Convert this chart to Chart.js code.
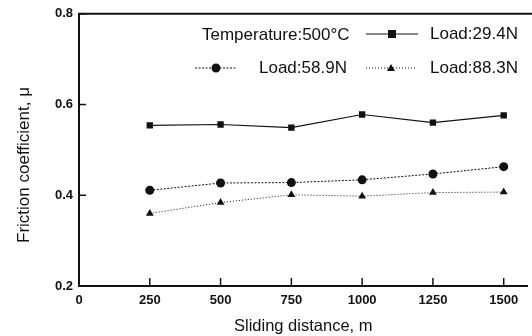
<!DOCTYPE html>
<html>
<head>
<meta charset="utf-8">
<script src="https://cdn.jsdelivr.net/npm/chart.js@4.4.1/dist/chart.umd.min.js"></script>
<style>
  html, body { margin: 0; padding: 0; background: #fff; }
  #wrap { width: 532px; height: 336px; }
</style>
</head>
<body>
<div id="wrap"><canvas id="myChart" width="532" height="336"></canvas></div>
<script>
// sliding distance, m
var distances = [250, 500, 750, 1000, 1250, 1500];
// friction coefficient per load
var load294 = [0.554, 0.556, 0.549, 0.578, 0.560, 0.576];
var load589 = [0.411, 0.427, 0.428, 0.434, 0.447, 0.463];
var load883 = [0.360, 0.384, 0.401, 0.398, 0.406, 0.407];
var xTicks = [0, 250, 500, 750, 1000, 1250, 1500];
var yTicks = [0.2, 0.4, 0.6, 0.8];

var ink = '#111';
var fontFam = 'Arial, "Liberation Sans", Helvetica, sans-serif';

function pts(vals) {
  return distances.map(function (d, i) { return { x: d, y: vals[i] }; });
}

// inward ticks, top frame line, y title and the in-plot legend
var decor = {
  id: 'decor',
  afterDraw: function (chart) {
    var c = chart.ctx, a = chart.chartArea;
    var xs = chart.scales.x, ys = chart.scales.y;
    c.save();
    c.strokeStyle = ink;
    c.lineWidth = 2;
    c.beginPath();
    c.moveTo(a.left - 1, a.top);
    c.lineTo(chart.width, a.top);
    c.stroke();
    c.lineWidth = 1.5;
    xTicks.forEach(function (v) {
      if (v === 0) return;
      var px = xs.getPixelForValue(v);
      c.beginPath(); c.moveTo(px, a.bottom); c.lineTo(px, a.bottom - 8); c.stroke();
    });
    yTicks.forEach(function (v) {
      var py = ys.getPixelForValue(v);
      c.beginPath(); c.moveTo(a.left, py); c.lineTo(a.left + 7, py); c.stroke();
    });

    c.fillStyle = ink;
    // y axis title
    c.save();
    c.translate(24, 165);
    c.rotate(-Math.PI / 2);
    c.font = '17px ' + fontFam;
    c.textAlign = 'center';
    c.textBaseline = 'middle';
    c.fillText('Friction coefficient, \u03bc', 0, 0);
    c.restore();

    // legend
    c.font = '17px ' + fontFam;
    c.textBaseline = 'middle';
    c.fillText('Temperature:500\u00b0C', 202, 35);
    c.fillText('Load:29.4N', 430, 34);
    c.fillText('Load:58.9N', 259, 68);
    c.fillText('Load:88.3N', 430, 68);

    function sample(x1, x2, y, dash, lw, marker) {
      c.save();
      c.lineWidth = lw;
      c.setLineDash(dash);
      c.beginPath(); c.moveTo(x1, y); c.lineTo(x2, y); c.stroke();
      c.restore();
      var mx = (x1 + x2) / 2;
      c.beginPath();
      if (marker === 'rect') {
        c.rect(mx - 4, y - 4, 8, 8);
      } else if (marker === 'circle') {
        c.arc(mx, y, 4.5, 0, Math.PI * 2);
      } else {
        c.moveTo(mx, y - 4); c.lineTo(mx + 4, y + 3); c.lineTo(mx - 4, y + 3); c.closePath();
      }
      c.fill();
    }
    sample(366, 418, 34, [], 1.2, 'rect');
    sample(195, 237, 68, [2, 1.5], 1, 'circle');
    sample(366, 416, 68, [1, 2], 1, 'triangle');
    c.restore();
  }
};

var ctx = document.getElementById('myChart').getContext('2d');
var myChart = new Chart(ctx, {
  type: 'line',
  data: {
    datasets: [{
      label: 'Load:29.4N',
      data: pts(load294),
      borderColor: ink,
      backgroundColor: ink,
      borderWidth: 1.2,
      pointStyle: 'rect',
      pointRadius: 4.5,
      pointBorderWidth: 0
    }, {
      label: 'Load:58.9N',
      data: pts(load589),
      borderColor: ink,
      backgroundColor: ink,
      borderWidth: 1,
      borderDash: [2, 1.5],
      pointStyle: 'circle',
      pointRadius: 4.5,
      pointBorderWidth: 0
    }, {
      label: 'Load:88.3N',
      data: pts(load883),
      borderColor: ink,
      backgroundColor: ink,
      borderWidth: 1,
      borderDash: [1, 2],
      pointStyle: 'triangle',
      pointRadius: 4.5,
      pointBorderWidth: 0
    }]
  },
  options: {
    responsive: false,
    animation: false,
    layout: { padding: { top: 13, right: 0, left: 0, bottom: 0 } },
    plugins: { legend: { display: false }, tooltip: { enabled: false } },
    scales: {
      x: {
        type: 'linear',
        min: 0,
        max: 1584,
        afterBuildTicks: function (s) { s.ticks = xTicks.map(function (v) { return { value: v }; }); },
        afterFit: function (s) { s.height = 50; },
        grid: { display: false, drawTicks: false },
        border: { display: true, color: ink, width: 2 },
        ticks: {
          color: ink,
          padding: 7,
          maxRotation: 0,
          font: { family: fontFam, size: 13, weight: 'bold' },
          callback: function (v) { return String(v); }
        },
        title: {
          display: true,
          text: 'Sliding distance, m',
          color: ink,
          padding: { top: 0, bottom: 0 },
          font: { family: fontFam, size: 16.5 }
        }
      },
      y: {
        min: 0.2,
        max: 0.8,
        afterBuildTicks: function (s) { s.ticks = yTicks.map(function (v) { return { value: v }; }); },
        afterFit: function (s) { s.width = 79; },
        grid: { display: false, drawTicks: false },
        border: { display: true, color: ink, width: 2 },
        ticks: {
          color: ink,
          padding: 6,
          font: { family: fontFam, size: 13, weight: 'bold' },
          callback: function (v) { return v.toFixed(1); }
        }
      }
    }
  },
  plugins: [decor]
});

myChart.update();
</script>
</body>
</html>
